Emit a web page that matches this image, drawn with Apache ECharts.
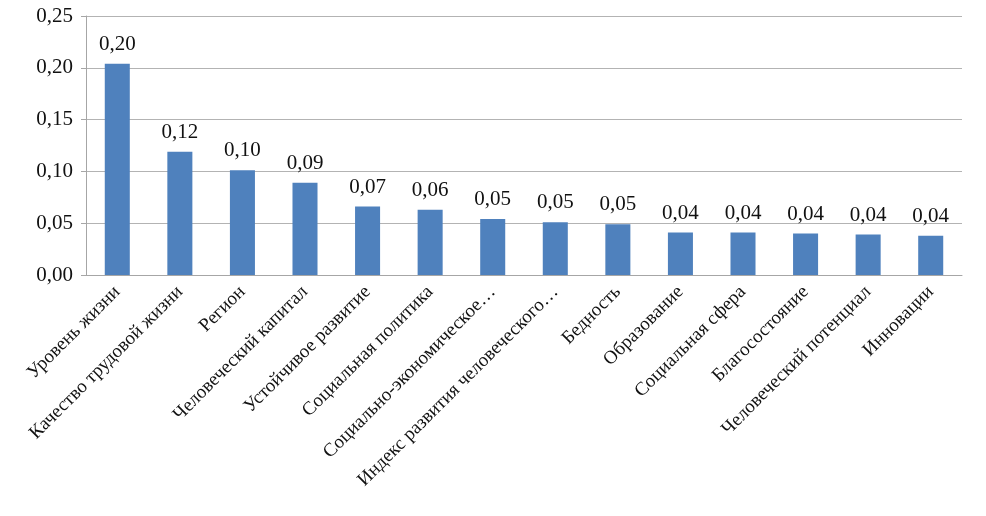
<!DOCTYPE html>
<html><head><meta charset="utf-8">
<script src="https://cdn.jsdelivr.net/npm/echarts@6/dist/echarts.min.js"></script>
<style>html,body{margin:0;padding:0;background:#fff}#c{width:986px;height:516px}</style>
</head><body><div id="c"></div>
<script>
const categories = ["Уровень жизни","Качество трудовой жизни","Регион","Человеческий капитал","Устойчивое развитие","Социальная политика","Социально-экономическое…","Индекс развития человеческого…","Бедность","Образование","Социальная сфера","Благосостояние","Человеческий потенциал","Инновации"];
const values = [0.204, 0.119, 0.101, 0.089, 0.066, 0.063, 0.054, 0.051, 0.049, 0.041, 0.041, 0.040, 0.039, 0.038];
const yTicks = {min: 0, max: 0.25, interval: 0.05};
const fmt = v => v.toFixed(2).replace('.', ',');
const chart = echarts.init(document.getElementById('c'));
chart.setOption({
  animation: false,
  grid: {left: 86, right: 24, top: 16, bottom: 241},
  xAxis: {
    type: 'category', data: categories,
    axisLine: {lineStyle: {color: '#a6a6a6'}},
    axisTick: {show: false},
    axisLabel: {rotate: 45, interval: 0, color: '#111', fontFamily: 'Liberation Serif', fontSize: 19, margin: 14}
  },
  yAxis: {
    type: 'value', min: yTicks.min, max: yTicks.max, interval: yTicks.interval,
    axisLine: {show: true, lineStyle: {color: '#a6a6a6'}},
    axisTick: {show: true, length: 5, lineStyle: {color: '#a6a6a6'}},
    splitLine: {lineStyle: {color: '#b3b3b3'}},
    axisLabel: {formatter: fmt, color: '#111', fontFamily: 'Liberation Serif', fontSize: 21, margin: 13}
  },
  series: [{
    type: 'bar', data: values, barWidth: '40%',
    itemStyle: {color: '#4f81bd'},
    label: {show: true, position: 'top', distance: 9, formatter: p => fmt(p.value), color: '#111', fontFamily: 'Liberation Serif', fontSize: 21}
  }]
});
</script></body></html>
